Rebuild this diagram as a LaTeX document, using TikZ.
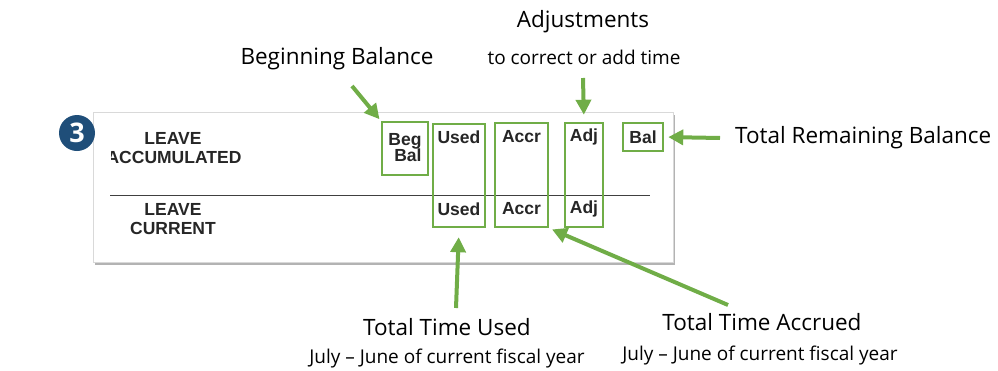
\documentclass[tikz,border=0pt]{standalone}
\usepackage{fontspec}
\setmainfont{Open Sans}
\newfontfamily\arialfont{Liberation Sans}
\usetikzlibrary{arrows.meta,shadows}
\definecolor{leafgreen}{RGB}{112,173,71}
\definecolor{badgeblue}{RGB}{31,78,121}

\begin{document}
\begin{tikzpicture}[
			     x=1pt, y=-1pt,
			     gbox/.style={draw=leafgreen, line width=2.5pt, inner sep=0pt},
			     cell/.style={font=\arialfont\bfseries\fontsize{17.5}{17}\selectfont, text=black!85, inner sep=0pt},
			     title/.style={font=\fontsize{22.5}{26}\selectfont, inner sep=0pt},
			     sub/.style={font=\fontsize{19}{22}\selectfont, inner sep=0pt},
			     arr/.style={draw=leafgreen, line width=4pt, -{Triangle[length=15pt,width=15pt]}}
			     ]
\useasboundingbox (0,0) rectangle (998,370);
%panel
\node[draw=black!15, fill=white, drop shadow={shadow xshift=2pt, shadow yshift=-3pt, opacity=0.6}, minimum width=580, minimum height=150, anchor=north west] (panel) at (93,112) {};
\draw[black!75, line width=1pt] (110,195) -- (650,195);
\node[circle, fill=badgeblue, minimum size=36, inner sep=0pt, text=white, font=\bfseries\fontsize{27}{27}\selectfont] (badge) at (77,133) {3};
\node[cell] (leave1) at (173,138) {LEAVE};
\begin{scope}
\clip (111,140) rectangle (300,175);
\node[cell] (accum) at (174,157) {ACCUMULATED};
\end{scope}
\node[cell] (leave2) at (173,209) {LEAVE};
\node[cell] (current) at (173,228) {CURRENT};
%green boxes
\node[gbox, minimum width=46, minimum height=53] (begbox) at (405,148.5) {};
\node[gbox, minimum width=52, minimum height=103] (usedbox) at (459,175.5) {};
\node[gbox, minimum width=53, minimum height=104] (accrbox) at (521.5,175) {};
\node[gbox, minimum width=38, minimum height=104] (adjbox) at (584,175) {};
\node[gbox, minimum width=40, minimum height=28] (balbox) at (643,137) {};
\node[cell, align=right] (begtext) at (405,148) {Beg\\[-1pt]Bal};
\node[cell] (used1) at (459,137) {Used};
\node[cell] (used2) at (459,209) {Used};
\node[cell] (accr1) at (521.5,137) {Accr};
\node[cell] (accr2) at (521.5,209) {Accr};
\node[cell] (adj1) at (584,137) {Adj};
\node[cell] (adj2) at (584,209) {Adj};
\node[cell] (bal1) at (643,137) {Bal};
%labels
\node[title, anchor=base] (begtitle) at (337,64) {Beginning Balance};
\node[title, anchor=base] (adjtitle) at (583,27) {Adjustments};
\node[sub, anchor=base] (adjsub) at (584,64) {to correct or add time};
\node[title, anchor=base west] (remtitle) at (735,143) {Total Remaining Balance};
\node[title, anchor=base] (usedtitle) at (447,335) {Total Time Used};
\node[sub, anchor=base] (usedsub) at (447,363) {July -- June of current fiscal year};
\node[title, anchor=base] (accrtitle) at (762,330) {Total Time Accrued};
\node[sub, anchor=base] (accrsub) at (760,360) {July -- June of current fiscal year};
%arrows
\coordinate (begtail) at (352,86);
\coordinate (adjtail) at (583,78);
\coordinate (remtail) at (720,138);
\coordinate (usedtail) at (456,308);
\coordinate (accrtail) at (728,305);
\draw[arr, shorten >=2pt] (begtail) -- (begbox.north west);
\draw[arr, shorten >=7pt] (adjtail) -- (adjbox.north);
\draw[arr, shorten >=4pt] (remtail) -- (balbox.east);
\draw[arr, shorten >=9pt] (usedtail) -- (usedbox.south);
\draw[arr, shorten >=3pt] (accrtail) -- (accrbox.south east);
\end{tikzpicture}
\end{document}
